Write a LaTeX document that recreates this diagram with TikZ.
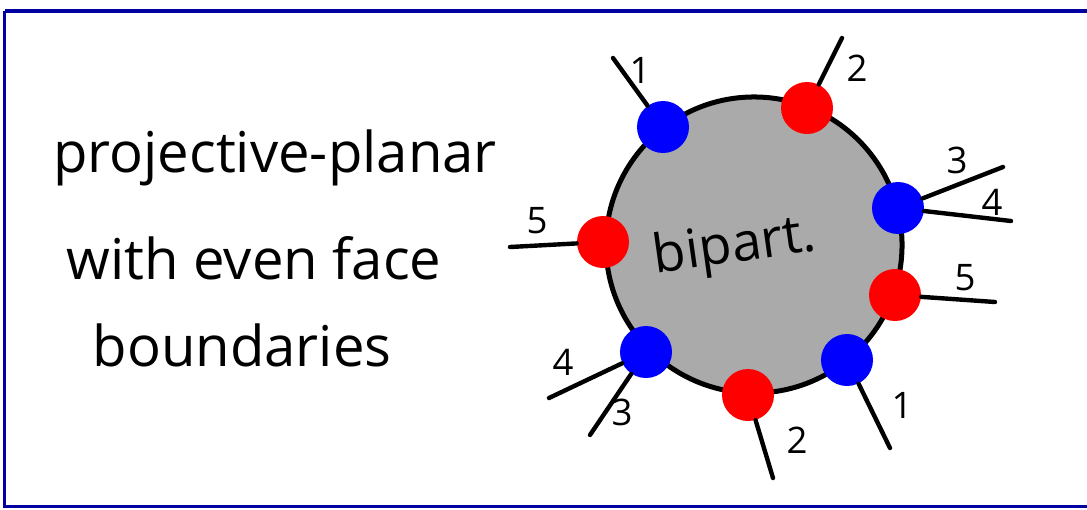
\documentclass[tikz,border=0pt]{standalone}
\usepackage{fontspec}
\setmainfont{Open Sans}
\definecolor{frameblue}{RGB}{0,0,160}
\definecolor{diskgray}{RGB}{170,170,170}

\begin{document}
\begin{tikzpicture}[x={(0.025cm,0cm)}, y={(0cm,-0.025cm)},
    hand/.style={line width=0.11cm, line cap=round},
    rdot/.style={circle, fill=red, minimum size=1.3cm, inner sep=0pt},
    bdot/.style={circle, fill=blue, minimum size=1.3cm, inner sep=0pt},
    lbl/.style={font=\fontsize{26}{26}\selectfont},
    big/.style={font=\fontsize{40}{40}\selectfont}]
    \useasboundingbox (0,0) rectangle (1087,509);

    % Frame
    \draw[frameblue, line width=0.1cm] (1087,10.5) -- (4.5,10.5);
    \draw[frameblue, line width=0.075cm] (4.5,10.5) -- (4.5,506.5) -- (1087,506.5);

    % Text
    \node[big] (t1) at (275,158) {projective-planar};
    \node[big] (t2) at (254,258) {with even face};
    \node[big] (t3) at (242,345) {boundaries};

    % Disk
    \filldraw[fill=diskgray, line width=0.125cm] (754,245) circle (3.7cm);
    \node[font=\fontsize{38}{38}\selectfont, rotate=8] (bp) at (735,248) {bipart.};

    % Dots
    \node[bdot] (b1) at (663,127) {};
    \node[rdot] (r2) at (807,108) {};
    \node[bdot] (b34) at (898,208) {};
    \node[rdot] (r5) at (895,295) {};
    \node[bdot] (b1s) at (847,360) {};
    \node[rdot] (r2s) at (748,395) {};
    \node[bdot] (b43) at (646,352) {};
    \node[rdot] (r5s) at (603,242) {};

    % Legs
    \coordinate (e1) at (613,58);
    \coordinate (e2) at (842,38);
    \coordinate (e3) at (1003,167);
    \coordinate (e4) at (1011,221);
    \coordinate (e5) at (995,302);
    \coordinate (e1s) at (890,448);
    \coordinate (e2s) at (773,478);
    \coordinate (e4s) at (549,398);
    \coordinate (e3s) at (590,435);
    \coordinate (e5s) at (510,247);

    \draw[hand] (b1) -- (e1);
    \draw[hand] (r2) -- (e2);
    \draw[hand] (b34) -- (e3);
    \draw[hand] (b34) -- (e4);
    \draw[hand] (r5) -- (e5);
    \draw[hand] (b1s) -- (e1s);
    \draw[hand] (r2s) -- (e2s);
    \draw[hand] (b43) -- (e4s);
    \draw[hand] (b43) -- (e3s);
    \draw[hand] (r5s) -- (e5s);

    % Labels
    \node[lbl] (l1) at (640,70) {1};
    \node[lbl] (l2) at (857,68) {2};
    \node[lbl] (l3) at (957,160) {3};
    \node[lbl] (l4) at (992,202) {4};
    \node[lbl] (l5) at (965,278) {5};
    \node[lbl] (l1s) at (902,405) {1};
    \node[lbl] (l2s) at (797,440) {2};
    \node[lbl] (l4s) at (563,362) {4};
    \node[lbl] (l3s) at (622,412) {3};
    \node[lbl] (l5s) at (537,221) {5};
\end{tikzpicture}
\end{document}
